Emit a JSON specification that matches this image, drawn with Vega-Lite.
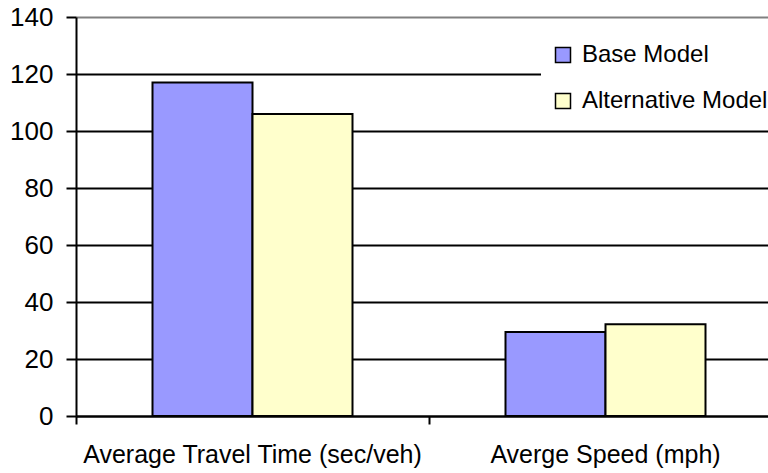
{
  "$schema": "https://vega.github.io/schema/vega-lite/v6.json",
  "width": 692,
  "height": 399,
  "autosize": "none",
  "padding": {"left": 76, "top": 17, "right": 0, "bottom": 57},
  "background": "white",
  "config": {
    "view": {"stroke": null},
    "font": "Liberation Sans"
  },
  "data": {
    "values": [
      {"measure": "Average Travel Time (sec/veh)", "model": "Base Model", "value": 117},
      {"measure": "Average Travel Time (sec/veh)", "model": "Alternative Model", "value": 106},
      {"measure": "Averge Speed (mph)", "model": "Base Model", "value": 29.5},
      {"measure": "Averge Speed (mph)", "model": "Alternative Model", "value": 32.2}
    ]
  },
  "mark": {"type": "bar", "stroke": "black", "strokeWidth": 2},
  "encoding": {
    "x": {
      "field": "measure",
      "type": "nominal",
      "sort": null,
      "scale": {"range": [0, 706], "paddingInner": 0, "paddingOuter": 0},
      "axis": {
        "title": null,
        "labelAngle": 0,
        "bandPosition": 0,
        "labelFontSize": 25,
        "labelColor": "black",
        "labelPadding": 18,
        "labelLimit": 0,
        "labelFont": "Liberation Sans",
        "tickSize": 8,
        "tickColor": "black",
        "tickWidth": 2,
        "domainColor": "black",
        "domainWidth": 2,
        "grid": false
      }
    },
    "xOffset": {
      "field": "model",
      "type": "nominal",
      "sort": ["Base Model", "Alternative Model"],
      "scale": {"paddingInner": 0, "paddingOuter": 0.765}
    },
    "y": {
      "field": "value",
      "type": "quantitative",
      "scale": {"domain": [0, 140], "nice": false},
      "axis": {
        "title": null,
        "values": [0, 20, 40, 60, 80, 100, 120, 140],
        "labelFontSize": 26,
        "labelColor": "black",
        "labelPadding": 13,
        "labelFont": "Liberation Sans",
        "tickSize": 10,
        "tickColor": "black",
        "tickWidth": 2,
        "domainColor": "black",
        "domainWidth": 2,
        "grid": true,
        "gridColor": {"condition": {"test": "datum.value === 140", "value": "#808080"}, "value": "black"},
        "gridWidth": 2,
        "gridOpacity": 1
      }
    },
    "color": {
      "field": "model",
      "type": "nominal",
      "sort": ["Base Model", "Alternative Model"],
      "scale": {"domain": ["Base Model", "Alternative Model"], "range": ["#9999FF", "#FFFFCC"]},
      "legend": {
        "title": null,
        "orient": "none",
        "legendX": 465,
        "legendY": 16,
        "padding": 10,
        "fillColor": "white",
        "strokeColor": null,
        "symbolType": "square",
        "symbolSize": 225,
        "symbolStrokeColor": "black",
        "symbolStrokeWidth": 1.5,
        "symbolOpacity": 1,
        "labelFontSize": 24,
        "labelColor": "black",
        "labelFont": "Liberation Sans",
        "labelOffset": 7,
        "labelLimit": 0,
        "rowPadding": 22
      }
    }
  }
}
